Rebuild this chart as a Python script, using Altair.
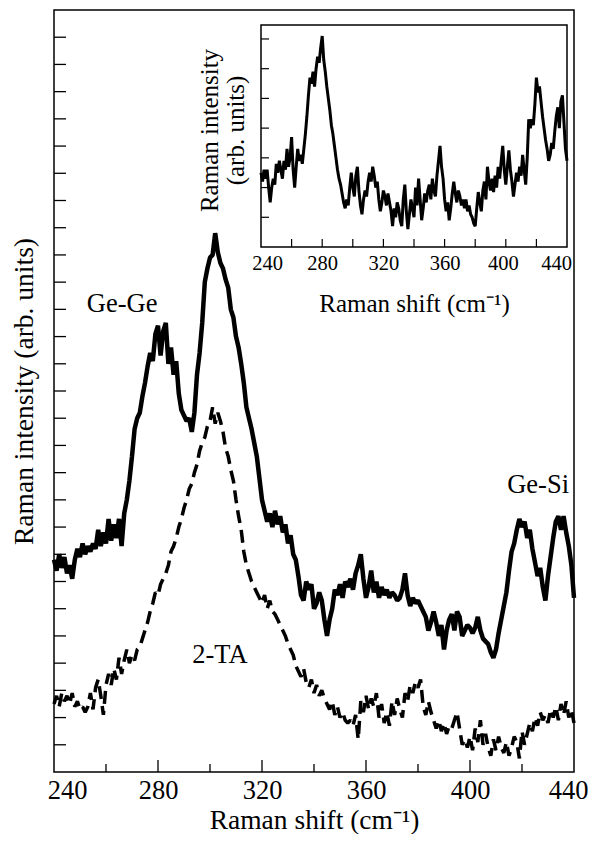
import altair as alt
import pandas as pd

# ---------------- data ----------------
shift = list(range(240, 441))

solid = [7.8, 7.4, 8.0, 7.5, 7.9, 7.3, 7.6, 7.1, 7.8, 8.2,
         7.9, 8.4, 8.0, 8.3, 8.1, 8.4, 8.2, 8.9, 8.3, 8.8,
         8.4, 9.3, 8.5, 9.1, 8.6, 9.3, 8.3, 9.5, 10.0, 10.7,
         11.6, 12.6, 13.0, 13.2, 13.8, 14.3, 14.9, 15.4, 15.1, 16.1,
         16.4, 15.3, 16.2, 16.5, 15.0, 15.6, 14.6, 15.1, 13.9, 13.3,
         13.1, 12.9, 13.0, 12.5, 13.2, 14.6, 15.4, 16.5, 18.0, 18.5,
         18.9, 19.0, 19.8, 19.1, 18.7, 18.5, 18.1, 17.8, 17.0, 16.7,
         16.0, 15.6, 15.0, 14.3, 13.4, 13.0, 12.6, 12.1, 11.6, 10.8,
         10.0, 9.6, 9.2, 9.5, 9.0, 9.6, 9.1, 9.4, 8.8, 9.1,
         8.4, 8.7, 8.0, 7.8, 7.2, 6.5, 6.3, 7.0, 6.7, 6.9,
         6.0, 6.2, 6.6, 6.3, 5.6, 5.0, 5.6, 6.0, 6.7, 6.5,
         6.9, 6.4, 7.0, 6.8, 7.1, 6.7, 7.3, 7.6, 8.0, 7.1,
         6.4, 6.8, 7.4, 6.6, 7.0, 6.4, 6.8, 6.5, 6.7, 6.4,
         6.6, 6.5, 6.3, 6.4, 6.7, 7.3, 6.5, 6.1, 6.4, 6.2,
         6.3, 6.1, 5.9, 5.7, 5.2, 5.5, 5.9, 5.5, 5.0, 5.4,
         4.5, 5.2, 5.6, 5.8, 5.2, 5.9, 5.7, 5.0, 5.2, 5.4,
         5.3, 5.1, 5.3, 5.7, 5.2, 4.9, 4.8, 4.7, 4.4, 4.2,
         4.5, 5.1, 5.6, 6.1, 6.6, 7.4, 8.1, 8.4, 8.9, 9.3,
         9.0, 9.2, 8.6, 8.9, 8.2, 7.7, 7.2, 7.5, 6.8, 6.3,
         7.2, 7.9, 8.6, 9.2, 9.4, 8.9, 9.4, 8.8, 8.3, 7.6,
         6.4]

dashed = [2.5, 2.8, 2.4, 2.9, 2.6, 2.8, 2.5, 2.9, 2.4, 2.6,
          2.3, 2.4, 2.2, 2.4, 2.9, 2.3, 3.1, 3.4, 2.8, 2.1,
          3.2, 3.6, 3.2, 3.8, 3.4, 4.2, 3.6, 4.1, 4.5, 4.0,
          4.3, 4.1, 4.5, 4.6, 4.9, 5.2, 5.5, 5.9, 6.2, 6.6,
          6.5, 6.9, 7.1, 7.3, 7.6, 8.1, 8.3, 8.6, 9.0, 9.3,
          9.7, 10.0, 10.4, 10.6, 11.0, 11.3, 11.8, 12.1, 12.3, 12.7,
          12.9, 13.4, 12.8, 13.2, 12.9, 12.5, 11.9, 11.6, 11.1, 10.7,
          10.0, 9.4, 8.9, 8.1, 7.6, 7.3, 7.0, 6.8, 6.6, 6.4,
          6.2, 6.5, 6.0, 6.3, 5.9, 5.8, 5.6, 5.4, 5.2, 5.0,
          4.7, 4.5, 4.3, 3.9, 3.7, 3.5, 3.8, 3.3, 3.1, 3.4,
          2.9, 3.2, 2.8, 3.0, 2.7, 2.5, 2.3, 2.6, 2.1, 2.4,
          2.0, 2.2, 1.9, 1.8, 1.9, 1.7, 2.1, 1.2, 2.6, 2.2,
          2.8, 2.3, 2.7, 2.4, 2.9, 2.0, 2.5, 1.8, 2.2, 1.7,
          2.6, 2.1, 2.7, 2.3, 2.0, 2.9, 2.6, 3.2, 2.9, 3.3,
          3.1, 3.4, 2.4, 2.1, 2.6, 2.2, 1.9, 1.6, 1.9, 1.5,
          1.8, 1.4, 1.7, 1.6, 1.9, 2.2, 1.6, 1.0, 1.2, 0.9,
          1.3, 0.8, 1.6, 1.1, 1.9, 1.0, 1.4, 0.9, 0.6, 1.2,
          0.8, 1.3, 0.9, 0.7, 1.1, 0.6, 0.9, 1.3, 1.1, 0.5,
          1.5, 1.0, 1.4, 1.8, 1.5, 2.0, 1.7, 2.2, 1.9, 2.1,
          1.8, 2.3, 2.0, 2.4, 1.9, 2.5, 2.1, 2.6, 2.0, 2.3,
          1.8]

inset = [2.5, 2.2, 2.6, 2.3, 2.6, 2.0, 1.5, 2.0, 2.3, 2.1,
         2.8, 2.5, 2.9, 2.6, 2.3, 2.9, 2.6, 3.3, 2.7, 3.0,
         3.7, 2.6, 2.0, 2.7, 3.3, 2.9, 3.1, 2.8, 3.3, 3.8,
         4.4, 5.1, 5.7, 5.5, 5.9, 5.4, 6.0, 6.4, 6.2, 6.7,
         7.1, 6.3, 5.9, 5.4, 5.0, 4.6, 4.1, 3.8, 3.4, 3.0,
         2.6, 2.3, 2.1, 1.8, 1.5, 1.3, 1.6, 1.4, 2.0, 2.5,
         2.0, 1.7, 2.4, 2.7, 1.9, 1.4, 1.1, 1.6, 1.9, 1.7,
         2.2, 2.5, 2.2, 2.7, 2.4, 2.0, 2.2, 1.6, 1.2, 1.5,
         1.9, 1.7, 1.4, 1.8, 1.5, 1.2, 0.7, 1.3, 1.0, 1.5,
         1.3, 0.9, 0.7, 1.6, 2.1, 1.2, 0.6, 1.1, 1.6, 1.3,
         1.0, 2.0, 1.4, 2.3, 1.6, 0.9, 1.3, 1.8, 1.5, 1.9,
         2.1, 1.6, 2.3, 1.9, 1.7, 2.4, 2.9, 3.4, 2.7, 2.3,
         1.6, 1.2, 1.5, 0.9, 1.3, 1.8, 2.2, 1.8, 1.5, 1.9,
         1.7, 1.4, 1.6, 1.3, 1.6, 1.2, 1.4, 1.1, 1.0, 0.8,
         0.7, 1.3, 1.85, 1.5, 1.2, 1.9, 2.2, 1.6, 2.7, 2.2,
         1.9, 2.3, 1.85, 2.4, 2.0, 2.7, 2.3, 2.9, 3.4, 2.6,
         2.1, 2.7, 3.25, 2.6, 2.2, 1.7, 2.1, 2.5, 2.2, 2.7,
         2.4, 3.1, 2.6, 2.1, 3.0, 4.3, 4.0, 4.3, 4.1, 4.8,
         5.7, 5.2, 5.4, 4.9, 4.4, 4.0, 3.6, 3.3, 2.9, 3.1,
         3.5, 3.3, 3.9, 4.4, 4.7, 4.0, 4.9, 5.1, 4.2, 3.3,
         2.9]

main_xlabels = [240, 280, 320, 360, 400, 440]
main_xticks_major = [280, 320, 360, 400]
main_xticks_minor = [260, 300, 340, 380, 420]
main_yticks = list(range(1, 28))

inset_xlabels = [240, 280, 320, 360, 400, 440]
inset_xticks = [260, 280, 300, 320, 340, 360, 380, 400, 420]
inset_yticks = [1, 2, 3, 4, 5, 6, 7]

annot_text = ["Ge-Ge", "2-TA", "Ge-Si"]
annot_x = [266.2, 303.8, 426.2]
annot_y = [16.9, 4.0, 10.26]

# ---------------- layout / style ----------------
FONT = "Liberation Serif"
W, H = 520, 762
XDOM = [240, 440]
YDOM = [0, 28]
IX_RANGE = [207, 513]
IY_RANGE = [237, 15]
IYDOM = [0, 7.47]

# ---------------- main panel ----------------
main_df = pd.DataFrame({"x": shift, "solid": solid, "dashed": dashed})

x_axis = alt.Axis(
    values=main_xlabels, title="Raman shift  (cm⁻¹)", ticks=False, tickSize=0,
    domain=False, grid=False, labelFont=FONT, labelFontSize=26.5, labelPadding=5,
    labelColor="black", labelFlush=False,
    labelOffset={"condition": [{"test": "datum.value == 240", "value": 13},
                               {"test": "datum.value == 440", "value": -6}],
                 "value": 0},
    titleFont=FONT, titleFontSize=27.5, titleFontWeight="normal", titleColor="black",
    titlePadding=3,
)
y_axis = alt.Axis(
    labels=False, ticks=False, tickSize=0, domain=False, grid=False,
    title="Raman intensity  (arb. units)", titleFont=FONT, titleFontSize=27.5,
    titleFontWeight="normal", titleColor="black", titlePadding=16,
)
xs = alt.Scale(domain=XDOM, nice=False, zero=False)
ys = alt.Scale(domain=YDOM, nice=False, zero=False)


def X(field):
    return alt.X(field, type="quantitative", scale=xs, axis=x_axis)


def Y(field):
    return alt.Y(field, type="quantitative", scale=ys, axis=y_axis)


solid_line = alt.Chart(main_df).mark_line(
    color="black", strokeWidth=4.5, strokeJoin="bevel"
).encode(x=X("x"), y=Y("solid"))

dashed_line = alt.Chart(main_df).mark_line(
    color="black", strokeWidth=3.5, strokeDash=[13, 7], strokeJoin="bevel"
).encode(x=X("x"), y=Y("dashed"))

xt_major = alt.Chart(pd.DataFrame({"x": main_xticks_major})).mark_rule(
    color="black", strokeWidth=1.3
).encode(x=X("x"), y=alt.value(H), y2=alt.value(H - 12))

xt_minor = alt.Chart(pd.DataFrame({"x": main_xticks_minor})).mark_rule(
    color="black", strokeWidth=1.3
).encode(x=X("x"), y=alt.value(H), y2=alt.value(H - 8))

yt = alt.Chart(pd.DataFrame({"y": main_yticks})).mark_rule(
    color="black", strokeWidth=1.3
).encode(y=Y("y"), x=alt.value(0), x2=alt.value(12))

annot = alt.Chart(pd.DataFrame({"x": annot_x, "y": annot_y, "t": annot_text})).mark_text(
    font=FONT, fontSize=26.5, color="black", baseline="alphabetic", align="center"
).encode(x=X("x"), y=Y("y"), text="t:N")

main = alt.layer(solid_line, dashed_line, xt_major, xt_minor, yt, annot)

# ---------------- inset panel ----------------
inset_df = pd.DataFrame({"x": shift, "y": inset})

ix_axis = alt.Axis(
    orient="bottom", offset=-(H - IY_RANGE[0]), values=inset_xlabels,
    ticks=False, tickSize=0, domain=False, grid=False, labelFlush=False,
    labelFont=FONT, labelFontSize=20.5, labelPadding=6, labelColor="black",
    labelOffset={"condition": [{"test": "datum.value == 240", "value": 6},
                               {"test": "datum.value == 400", "value": -3},
                               {"test": "datum.value == 440", "value": -11}],
                 "value": 0},
    title="Raman shift  (cm⁻¹)", titleFont=FONT, titleFontSize=25,
    titleFontWeight="normal", titleColor="black", titlePadding=18,
)
iy_axis = alt.Axis(
    orient="left", offset=-IX_RANGE[0], labels=False, ticks=False, tickSize=0,
    domain=False, grid=False,
    title=["Raman intensity", "(arb. units)"], titleFont=FONT, titleFontSize=25,
    titleFontWeight="normal", titleColor="black", titlePadding=13, titleLineHeight=26,
    titleY=120,
)
ixs = alt.Scale(domain=XDOM, range=IX_RANGE, nice=False, zero=False)
iys = alt.Scale(domain=IYDOM, range=IY_RANGE, nice=False, zero=False)


def IX(field):
    return alt.X(field, type="quantitative", scale=ixs, axis=ix_axis)


def IY(field):
    return alt.Y(field, type="quantitative", scale=iys, axis=iy_axis)


frame = alt.Chart(pd.DataFrame({"x0": [XDOM[0]], "x1": [XDOM[1]],
                                "y0": [IYDOM[0]], "y1": [IYDOM[1]]})).mark_rect(
    fill="white", stroke="black", strokeWidth=1.5
).encode(x=IX("x0"), x2="x1:Q", y=IY("y0"), y2="y1:Q")

inset_line = alt.Chart(inset_df).mark_line(
    color="black", strokeWidth=3, strokeJoin="bevel"
).encode(x=IX("x"), y=IY("y"))

ixt = alt.Chart(pd.DataFrame({"x": inset_xticks})).mark_rule(
    color="black", strokeWidth=1.2
).encode(x=IX("x"), y=alt.value(IY_RANGE[0]), y2=alt.value(IY_RANGE[0] - 8))

iyt = alt.Chart(pd.DataFrame({"y": inset_yticks})).mark_rule(
    color="black", strokeWidth=1.2
).encode(y=IY("y"), x=alt.value(IX_RANGE[0]), x2=alt.value(IX_RANGE[0] + 8))

inset_panel = alt.layer(frame, inset_line, ixt, iyt)

chart = alt.layer(main, inset_panel).resolve_scale(
    x="independent", y="independent"
).properties(
    width=W, height=H,
    autosize=alt.AutoSizeParams(type="none"),
    padding={"left": 46, "top": 2, "right": 14, "bottom": 62},
    background="white",
).configure_view(stroke="black", strokeWidth=1.5)

chart.save("out.html", embed_options={"renderer": "svg", "actions": False})
